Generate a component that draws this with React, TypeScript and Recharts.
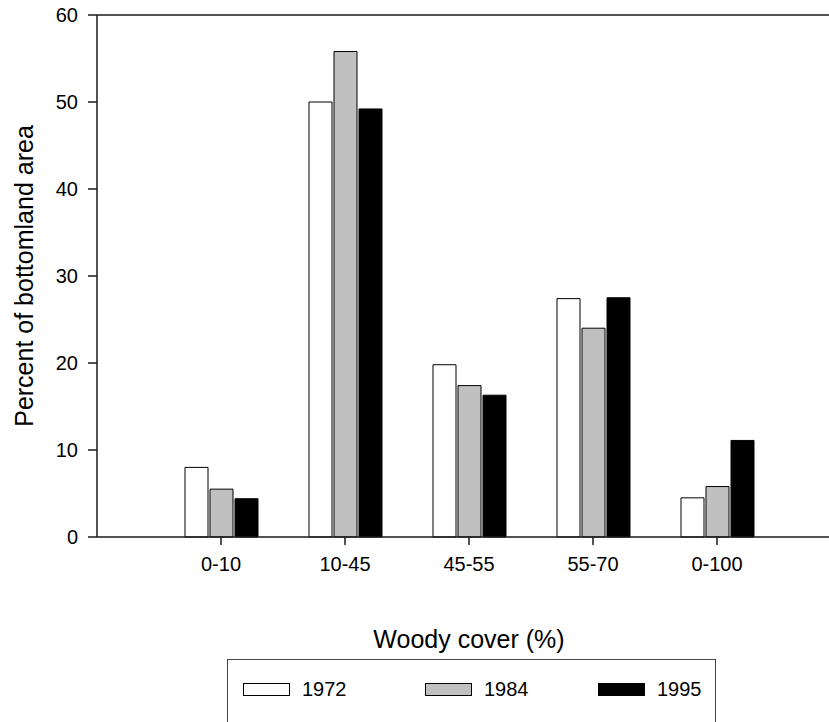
import { BarChart, Bar, XAxis, YAxis, Legend, ReferenceLine } from "recharts";

const categories = ["0-10", "10-45", "45-55", "55-70", "0-100"];
const y1972 = [8.0, 50.0, 19.8, 27.4, 4.5];
const y1984 = [5.5, 55.8, 17.4, 24.0, 5.8];
const y1995 = [4.4, 49.2, 16.3, 27.5, 11.1];
const yTicks = [0, 10, 20, 30, 40, 50, 60];

const data = categories.map((c, i) => ({
  cat: c,
  "1972": y1972[i],
  "1984": y1984[i],
  "1995": y1995[i],
}));

const font = "'Liberation Sans', Arial, Helvetica, sans-serif";
const axisColor = "#1a1a1a";

const itemLefts = [15, 197, 370];

function LegendBox(props: any) {
  const items = props.payload || [];
  return (
    <div
      style={{
        position: "relative",
        width: 489,
        height: 70,
        border: "1px solid #444",
        boxSizing: "border-box",
        fontFamily: font,
        fontSize: 20,
        color: "#000",
      }}
    >
      {items.map((it: any, i: number) => (
        <div
          key={it.value}
          style={{
            position: "absolute",
            left: itemLefts[i],
            top: 18,
            height: 23,
            display: "flex",
            alignItems: "center",
          }}
        >
          <span
            style={{
              display: "inline-block",
              width: 47,
              height: 13,
              background: it.color,
              border: "1px solid #000",
              boxSizing: "border-box",
              marginRight: 12,
            }}
          />
          <span>{it.value}</span>
        </div>
      ))}
    </div>
  );
}

export default function App() {
  return (
    <div style={{ position: "fixed", left: 0, top: 0, width: 829, height: 722, overflow: "hidden", background: "#fff" }}>
      <BarChart
        width={829}
        height={722}
        data={data}
        margin={{ top: 15, right: 0, bottom: 0, left: 0 }}
        barSize={23}
        barGap={2}
      >
        <XAxis
          dataKey="cat"
          padding={{ left: 62, right: 50 }}
          height={185}
          stroke={axisColor}
          strokeWidth={1.5}
          tickSize={8}
          tickMargin={12}
          tick={{ fill: "#000", fontSize: 20, fontFamily: font }}
          label={{
            content: () => (
              <text x={469} y={648} textAnchor="middle" fontSize={25} fontFamily={font} fill="#000">
                Woody cover (%)
              </text>
            ),
          }}
        />
        <YAxis
          domain={[0, 60]}
          ticks={yTicks}
          width={97}
          stroke={axisColor}
          strokeWidth={1.5}
          tickSize={9}
          tickMargin={10}
          interval={0}
          tick={{ fill: "#000", fontSize: 20, fontFamily: font }}
          label={{
            content: () => (
              <text
                x={33}
                y={276}
                textAnchor="middle"
                fontSize={25}
                fontFamily={font}
                fill="#000"
                transform="rotate(-90 33 276)"
              >
                Percent of bottomland area
              </text>
            ),
          }}
        />
        <ReferenceLine y={60} stroke={axisColor} strokeWidth={1.5} />
        <Legend
          layout="horizontal"
          verticalAlign="middle"
          align="center"
          content={LegendBox}
          wrapperStyle={{ left: 227, top: 659, width: 489 }}
        />
        <Bar dataKey="1972" fill="#ffffff" stroke="#000" strokeWidth={1} isAnimationActive={false} />
        <Bar dataKey="1984" fill="#c0c0c0" stroke="#000" strokeWidth={1} isAnimationActive={false} />
        <Bar dataKey="1995" fill="#000000" stroke="#000" strokeWidth={1} isAnimationActive={false} />
      </BarChart>
    </div>
  );
}
